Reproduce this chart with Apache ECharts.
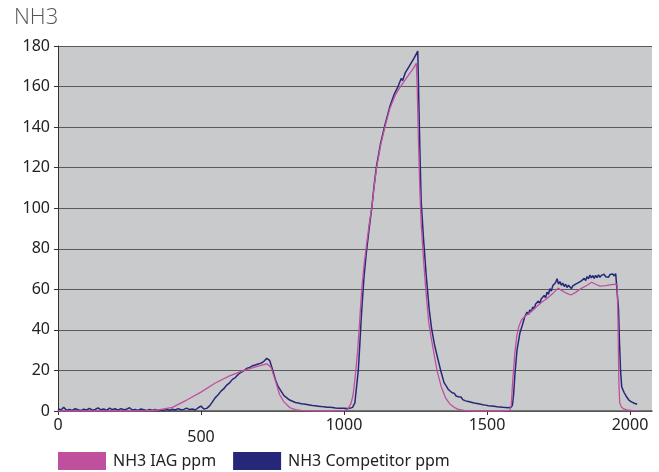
<!DOCTYPE html>
<html><head><meta charset="utf-8">
<script src="https://cdn.jsdelivr.net/npm/echarts@6/dist/echarts.min.js"></script>
<style>html,body{margin:0;padding:0;background:#fff}#c{width:659px;height:472px}</style>
</head><body><div id="c"></div>
<script>
const titleText = 'NH3';
const seriesNames = ['NH3 IAG ppm', 'NH3 Competitor ppm'];
const xTicks = [0, 500, 1000, 1500, 2000];
const yTicks = [0, 20, 40, 60, 80, 100, 120, 140, 160, 180];

const iagData = [
[0,0],[50,0],[100,0],[150,0],[200,0],[250,0],[300,0.1],[350,0.5],[400,1.8],[450,5.4],[500,9.3],[550,13.8],[600,17.3],[650,20.0],[700,22.1],[730,23.3],[745,21.5],[760,15],[775,8],[790,4.5],[810,1.7],[830,0.7],[850,0.3],[900,0.1],[950,0],[1000,0.2],[1015,1],[1025,4],[1032,8],[1040,18],[1048,30],[1055,45],[1062,60],[1070,72],[1078,81],[1088,92],[1097,100],[1105,110],[1114,120],[1128,131],[1143,140],[1160,149],[1180,156],[1200,160.5],[1220,164.5],[1240,168.5],[1253,171.5],[1256,160],[1260,135],[1265,110],[1270,92],[1278,75],[1286,60],[1296,44],[1305,36],[1315,28],[1325,20],[1340,12],[1355,6.5],[1370,3.5],[1385,1.8],[1400,0.8],[1420,0.3],[1450,0],[1500,0],[1550,0],[1580,0.3],[1585,3],[1590,15],[1597,28],[1604,37],[1612,42],[1621,45],[1635,47],[1650,48.5],[1670,51],[1690,53.5],[1710,55.5],[1730,58],[1749,60.6],[1760,59.5],[1775,58.3],[1793,57.2],[1810,58.5],[1830,60.5],[1850,62],[1866,63.5],[1880,62.5],[1895,61.6],[1915,61.8],[1935,62.3],[1955,62.6],[1958,45],[1961,15],[1964,4],[1970,2],[1978,1],[1990,0.5],[2005,0.3],[2028,0.2]
];

const compData = [
[0,1.2],[10,0.5],[20,1.8],[30,0.4],[40,0.8],[50,0.3],[60,1.1],[70,0.6],[80,0.2],[90,0.9],[100,0.5],[110,1.3],[120,0.4],[130,0.8],[140,1.5],[150,0.6],[160,1.0],[170,0.3],[180,1.4],[190,0.7],[200,1.1],[210,0.4],[220,1.2],[230,0.6],[240,0.9],[250,1.6],[260,0.5],[270,0.8],[280,0.3],[290,1.0],[300,0.6],[310,0.2],[320,0.8],[330,0.4],[340,0.7],[350,0.2],[360,0.5],[370,0.3],[380,0.8],[390,0.4],[400,0.9],[410,0.5],[420,1.2],[430,0.6],[440,0.8],[450,1.4],[460,0.7],[470,1.0],[480,0.5],[490,1.6],[500,2.4],[510,1.0],[520,1.3],[530,2.5],
[540,4.5],[545,5.2],[550,6.6],[555,6.9],[560,8.0],[565,8.2],[570,9.8],[575,9.6],[580,11.0],[585,11.4],[590,12.8],[595,12.4],[600,13.9],[605,14.6],[610,15.6],[615,15.1],[620,16.5],[625,16.9],[630,18.0],[635,17.6],[640,19.1],[645,18.7],[650,19.9],[655,20.5],[660,21.0],[665,20.6],[670,21.5],[675,21.1],[680,22.3],[685,21.8],[690,22.7],[695,22.3],[700,23.2],[705,22.8],[710,23.6],[715,23.4],[720,24.5],[725,24.8],[730,26.0],[735,26.6],[740,25.0],
[750,20.5],[760,15.5],[770,12.0],[780,9.8],[790,7.6],[800,6.5],[810,5.4],[820,4.8],[830,4.2],[840,4.0],[850,3.6],
[860,3.4],[865,2.8],[870,3.2],[875,2.6],[880,3.0],[885,2.3],[890,2.7],[895,2.1],[900,2.6],[905,1.9],[910,2.4],[915,1.8],[920,2.2],[925,1.6],[930,2.1],[935,1.5],[940,1.9],[945,1.3],[950,1.8],[955,1.2],[960,1.7],[965,1.1],[970,1.5],[975,1.0],[980,1.4],[985,0.9],[990,1.3],[995,0.8],[1000,1.4],[1005,0.9],[1010,1.2],[1015,0.8],[1020,1.3],[1025,1.0],[1030,1.8],
[1038,4],[1044,12],[1050,20],[1055,32],[1060,45],[1065,56],[1070,66],[1078,78],[1088,90],[1097,100],[1106,112],[1114,121],[1128,132],[1143,141],[1160,150],[1175,156],[1189,160],[1200,164],[1205,163],[1215,167],[1230,170.5],[1245,174],[1258,177.5],[1262,150],[1266,125],[1270,103],[1278,85],[1288,66],[1298,50],[1306,41],[1316,33],[1326,27],[1338,20],[1350,14],[1360,11.8],[1365,10.6],[1371,10.2],[1378,9.0],[1385,8.8],[1392,7.4],
[1400,7.0],[1405,6.2],[1410,6.8],[1415,5.6],[1420,6.1],[1425,5.0],[1430,5.8],[1435,4.7],[1440,5.3],[1445,4.3],[1450,5.0],[1455,3.9],[1460,4.6],[1465,3.7],[1470,4.4],[1475,3.4],[1480,4.0],[1485,3.1],[1490,3.8],[1495,2.9],[1500,3.5],[1505,2.6],[1510,3.3],[1515,2.5],[1520,3.1],[1525,2.3],[1530,2.9],[1535,2.1],[1540,2.8],[1545,2.0],[1550,2.6],[1555,1.8],[1560,2.5],[1565,1.7],[1570,2.4],[1575,1.6],[1580,2.3],[1585,1.9],[1589,3.0],
[1593,8],[1598,18.6],[1605,30],[1615,38.4],[1625,43],[1632,46.5],
[1640,48.8],[1645,47.6],[1650,49.9],[1655,48.9],[1660,51.3],[1665,50.2],[1670,52.8],[1675,51.9],[1680,54.2],[1685,53.1],[1690,55.4],[1695,54.5],[1700,57.0],[1705,55.8],[1710,58.6],[1715,57.5],[1720,60.3],[1725,59.1],[1730,61.8],[1735,60.9],[1740,63.4],[1745,65.2],[1750,62.6],[1755,63.8],[1760,62.0],[1765,63.1],[1770,61.4],[1775,62.5],[1780,60.9],[1785,62.0],[1790,61.2],[1795,60.4],[1800,61.7],[1805,60.8],[1810,62.6],[1815,61.7],[1820,63.3],[1825,62.4],[1830,64.2],[1835,63.3],[1840,65.4],[1845,64.3],[1850,66.3],[1855,65.2],[1860,67.0],[1865,65.7],[1870,66.8],[1875,65.4],[1880,66.9],[1885,65.8],[1890,67.2],[1895,65.9],[1900,66.9],[1905,66.0],[1910,67.4],[1915,66.2],[1920,67.1],[1925,66.0],[1930,67.3],[1935,66.4],[1940,67.6],[1945,66.6],[1950,67.8],[1955,68.6],
[1960,50],[1963,35],[1967,20],[1971,12],[1976,10.2],[1980,9.0],[1984,8.2],[1988,7.0],[1992,6.6],[1996,5.4],[2000,5.6],[2005,4.5],[2010,4.8],[2015,3.8],[2020,4.0],[2025,3.3]
];

const chart = echarts.init(document.getElementById('c'), null, {renderer: 'canvas'});
const font = 'Noto Sans, sans-serif';
chart.setOption({
  animation: false,
  backgroundColor: '#ffffff',
  title: {text: titleText, left: 9, top: 2, padding: [5,5,5,5], textStyle: {fontFamily: 'Open Sans, sans-serif', fontWeight: 300, fontSize: 22, color: '#555'}},
  legend: {
    left: 58, top: 452, padding: 0, icon: 'rect', itemWidth: 48, itemHeight: 18, itemGap: 17,
    textStyle: {fontFamily: font, fontSize: 16, color: '#222', padding: [0,0,0,2]},
    data: seriesNames
  },
  grid: {left: 58, right: 7, top: 46, bottom: 61, show: true, backgroundColor: '#c9cacc', borderWidth: 0},
  xAxis: {
    type: 'value', min: xTicks[0], max: 2077, interval: 500,
    axisLine: {show: true, onZero: false, lineStyle: {color: '#555', width: 1.5}},
    axisTick: {show: true, length: 4, lineStyle: {color: '#333'}},
    splitLine: {show: false},
    axisLabel: {showMaxLabel: false, margin: 6, fontFamily: font, fontSize: 16, color: '#222',
      formatter: v => v === 500 ? '{low|500}' : String(v),
      rich: {low: {fontFamily: font, fontSize: 16, color: '#222', padding: [12,0,0,0]}}}
  },
  yAxis: {
    type: 'value', min: yTicks[0], max: yTicks[yTicks.length-1], interval: 20,
    axisLine: {show: true, lineStyle: {color: '#333', width: 1}},
    axisTick: {show: true, length: 4, lineStyle: {color: '#333'}},
    splitLine: {show: true, lineStyle: {color: '#5a5a5a', width: 1}},
    axisLabel: {margin: 8, fontFamily: font, fontSize: 16, color: '#222'}
  },
  series: [
    {name: seriesNames[0], type: 'line', data: iagData, showSymbol: false, smooth: false,
     lineStyle: {color: '#c0509e', width: 1.3}, itemStyle: {color: '#c0509e'}, z: 3},
    {name: seriesNames[1], type: 'line', data: compData, showSymbol: false, smooth: false,
     lineStyle: {color: '#27277a', width: 1.5}, itemStyle: {color: '#27277a'}, z: 2}
  ]
});
</script></body></html>
